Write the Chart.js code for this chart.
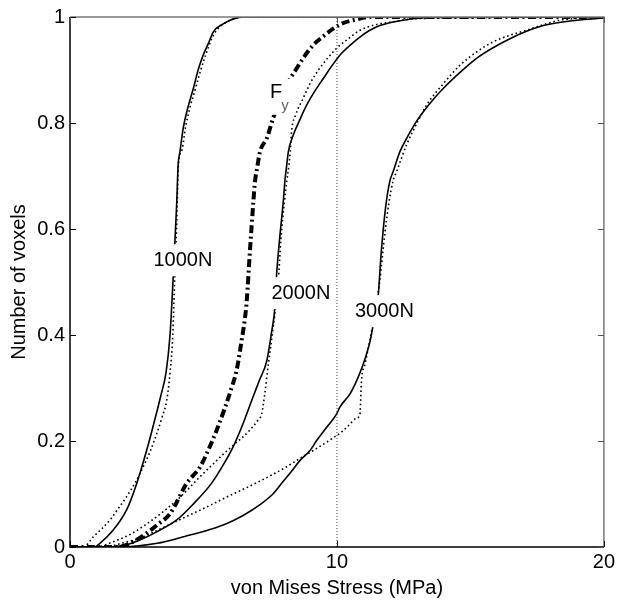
<!DOCTYPE html>
<html><head><meta charset="utf-8">
<script src="https://cdn.jsdelivr.net/npm/chart.js@4/dist/chart.umd.min.js"></script>
<style>html,body{margin:0;padding:0;background:#fff}</style>
</head><body>
<canvas id="c" width="618" height="603"></canvas>
<script>
// ---- data (von Mises stress in MPa vs cumulative fraction of voxels) ----
const xTicks = [0, 10, 20];
const yTicks = [0, 0.2, 0.4, 0.6, 0.8, 1];

const s1000x = [0, 0.9, 1.12, 1.62, 2.12, 2.5, 2.87, 3.15, 3.4, 3.6, 3.75, 3.87, 3.93, 4.0, 4.05, 4.12, 4.24, 4.42, 4.62, 4.8, 4.99, 5.2, 5.37, 5.74, 6.1, 6.5, 20];
const s1000y = [0, 0, 0.007, 0.032, 0.07, 0.12, 0.182, 0.235, 0.285, 0.33, 0.402, 0.514, 0.577, 0.652, 0.72, 0.746, 0.79, 0.83, 0.865, 0.9, 0.928, 0.952, 0.972, 0.987, 0.996, 1, 1];

const d1000x = [0, 0.5, 0.87, 1.2, 1.5, 1.8, 2.12, 2.45, 2.74, 3.0, 3.25, 3.45, 3.62, 3.75, 3.85, 3.93, 3.99, 4.06, 4.2, 4.32, 4.5, 4.7, 4.9, 5.08, 5.25, 5.45, 5.85, 6.6, 20];
const d1000y = [0, 0, 0.019, 0.035, 0.051, 0.072, 0.095, 0.122, 0.151, 0.18, 0.214, 0.245, 0.276, 0.33, 0.40, 0.52, 0.6, 0.72, 0.75, 0.79, 0.83, 0.865, 0.9, 0.928, 0.952, 0.972, 0.99, 1, 1];

const s2000x = [0, 1.5, 2.1, 2.7, 3.3, 4.0, 4.6, 5.3, 5.8, 6.12, 6.5, 6.87, 7.1, 7.37, 7.55, 7.68, 7.74, 7.85, 7.99, 8.05, 8.12, 8.18, 8.36, 8.6, 8.87, 9.17, 9.49, 9.8, 10.11, 10.5, 10.86, 11.2, 11.61, 12.48, 13.5, 20];
const s2000y = [0, 0, 0.004, 0.015, 0.03, 0.051, 0.08, 0.12, 0.16, 0.19, 0.235, 0.285, 0.315, 0.351, 0.405, 0.455, 0.514, 0.58, 0.652, 0.69, 0.721, 0.746, 0.777, 0.805, 0.834, 0.86, 0.884, 0.907, 0.928, 0.947, 0.962, 0.974, 0.984, 0.994, 0.999, 1];

const d2000x = [0, 1.0, 1.62, 2.3, 3.27, 4.0, 4.86, 5.37, 5.74, 6.12, 6.73, 7.05, 7.18, 7.3, 7.43, 7.6, 7.8, 7.9, 8.03, 8.12, 8.2, 8.25, 8.3, 8.45, 8.73, 9.0, 9.35, 9.97, 10.4, 10.86, 11.5, 12.1, 13.0, 20];
const d2000y = [0, 0, 0.01, 0.025, 0.058, 0.088, 0.132, 0.157, 0.175, 0.192, 0.22, 0.24, 0.251, 0.29, 0.345, 0.41, 0.5, 0.58, 0.65, 0.69, 0.72, 0.746, 0.784, 0.815, 0.846, 0.875, 0.903, 0.94, 0.958, 0.975, 0.986, 0.991, 0.997, 1];

const s3000x = [0, 1.8, 3.27, 4.3, 5.24, 5.9, 6.5, 7.12, 7.6, 7.99, 8.3, 8.61, 8.99, 9.24, 9.6, 9.99, 10.11, 10.49, 10.74, 10.95, 11.11, 11.25, 11.36, 11.55, 11.65, 11.82, 11.98, 12.11, 12.36, 12.6, 12.98, 13.45, 13.98, 14.6, 15.23, 15.85, 16.48, 17.1, 17.73, 18.98, 20];
const s3000y = [0, 0, 0.007, 0.02, 0.033, 0.045, 0.06, 0.08, 0.1, 0.124, 0.143, 0.163, 0.182, 0.201, 0.225, 0.251, 0.264, 0.289, 0.314, 0.34, 0.364, 0.39, 0.42, 0.477, 0.55, 0.64, 0.69, 0.709, 0.746, 0.77, 0.803, 0.835, 0.865, 0.895, 0.922, 0.942, 0.959, 0.973, 0.984, 0.994, 0.998];

const d3000x = [0, 1.3, 2.0, 2.74, 3.5, 4.3, 5.1, 5.86, 6.74, 7.49, 8.1, 8.61, 9.24, 9.86, 10.2, 10.49, 10.7, 10.86, 10.92, 11.05, 11.3, 11.45, 11.6, 11.8, 11.95, 12.1, 12.24, 12.61, 13.0, 13.36, 14.0, 14.61, 15.2, 15.85, 16.5, 17.1, 17.7, 18.35, 19.2, 20];
const d3000y = [0, 0, 0.008, 0.019, 0.037, 0.056, 0.075, 0.094, 0.115, 0.134, 0.151, 0.167, 0.186, 0.206, 0.218, 0.232, 0.242, 0.25, 0.314, 0.345, 0.408, 0.45, 0.5, 0.594, 0.65, 0.69, 0.709, 0.759, 0.8, 0.834, 0.875, 0.909, 0.933, 0.953, 0.966, 0.975, 0.985, 0.994, 0.998, 1];

const fyX = [0, 1.8, 2.37, 2.87, 3.3, 3.75, 4.37, 4.87, 5.12, 5.49, 5.8, 6.05, 6.24, 6.43, 6.55, 6.62, 6.74, 6.87, 6.93, 6.99, 7.12, 7.37, 7.61, 7.85, 8.12, 8.49, 8.8, 9.11, 9.5, 9.86, 10.2, 10.61, 11.24, 20];
const fyY = [0, 0, 0.01, 0.026, 0.043, 0.063, 0.12, 0.151, 0.176, 0.22, 0.262, 0.3, 0.333, 0.39, 0.43, 0.464, 0.558, 0.652, 0.69, 0.709, 0.746, 0.771, 0.809, 0.84, 0.872, 0.903, 0.927, 0.947, 0.964, 0.978, 0.988, 0.994, 1, 1];

const refX = [10, 10];
const refY = [0, 1];

// curve annotations (text, data-space anchor)
const curveLabels = ['1000N', '2000N', '3000N'];
const curveLabelX = [4.23, 8.65, 11.78];
const curveLabelY = [0.541, 0.479, 0.445];
const fyLabelX = 7.72, fyLabelY = 0.857;

const pts = (xs, ys) => xs.map((v, i) => ({x: v, y: ys[i]}));
const FONT = '"Liberation Sans", Arial, Helvetica, sans-serif';

const solid = (xs, ys) => ({data: pts(xs, ys), borderColor: '#000', borderWidth: 1.6, cubicInterpolationMode: 'monotone'});
const dotted = (xs, ys) => ({data: pts(xs, ys), borderColor: '#000', borderWidth: 1.6, borderDash: [1.6, 2.8], cubicInterpolationMode: 'monotone'});

const annot = {
  id: 'annot',
  afterDatasetsDraw(chart) {
    const {ctx, chartArea: a, scales: {x, y}} = chart;
    ctx.save();
    ctx.font = '20px ' + FONT;
    ctx.textAlign = 'center';
    ctx.textBaseline = 'middle';
    curveLabels.forEach((t, i) => {
      const px = x.getPixelForValue(curveLabelX[i]);
      const py = y.getPixelForValue(curveLabelY[i]);
      const w = ctx.measureText(t).width + 4;
      ctx.fillStyle = '#fff';
      ctx.fillRect(px - w / 2, py - 16, w, 32);
      ctx.fillStyle = '#000';
      ctx.fillText(t, px, py);
    });
    const fx = x.getPixelForValue(fyLabelX), fy = y.getPixelForValue(fyLabelY);
    ctx.fillStyle = '#fff';
    ctx.fillRect(fx - 9, fy - 14, 27, 36);
    ctx.fillStyle = '#000';
    ctx.fillText('F', fx, fy);
    ctx.font = '15px ' + FONT;
    ctx.fillStyle = '#666';
    ctx.fillText('y', fx + 9, fy + 13);

    // frame
    ctx.lineWidth = 1.5;
    ctx.strokeStyle = '#7a7a7a';
    ctx.beginPath();
    ctx.moveTo(a.left, a.top); ctx.lineTo(a.right, a.top); ctx.lineTo(a.right, a.bottom);
    ctx.stroke();
    ctx.strokeStyle = '#000';
    ctx.beginPath();
    ctx.moveTo(a.left, a.top); ctx.lineTo(a.left, a.bottom); ctx.lineTo(a.right, a.bottom);
    ctx.stroke();
    // inward ticks
    ctx.lineWidth = 1;
    y.ticks.forEach(t => {
      const py = Math.round(y.getPixelForValue(t.value)) + 0.5;
      ctx.strokeStyle = '#000';
      ctx.beginPath(); ctx.moveTo(a.left, py); ctx.lineTo(a.left + 6, py); ctx.stroke();
      ctx.strokeStyle = '#555';
      ctx.beginPath(); ctx.moveTo(a.right, py); ctx.lineTo(a.right - 6, py); ctx.stroke();
    });
    x.ticks.forEach(t => {
      const px = Math.round(x.getPixelForValue(t.value)) + 0.5;
      ctx.strokeStyle = '#000';
      ctx.beginPath(); ctx.moveTo(px, a.bottom); ctx.lineTo(px, a.bottom - 6); ctx.stroke();
      ctx.strokeStyle = '#555';
      ctx.beginPath(); ctx.moveTo(px, a.top); ctx.lineTo(px, a.top + 6); ctx.stroke();
    });
    ctx.restore();
  }
};

const fmt = v => String(Number(v.toFixed(2)));

new Chart(document.getElementById('c'), {
  type: 'line',
  data: {
    datasets: [
      {data: pts(refX, refY), borderColor: '#444', borderWidth: 1, borderDash: [1, 2]},
      dotted(d1000x, d1000y),
      solid(s1000x, s1000y),
      dotted(d2000x, d2000y),
      solid(s2000x, s2000y),
      dotted(d3000x, d3000y),
      solid(s3000x, s3000y),
      {data: pts(fyX, fyY), borderColor: '#000', borderWidth: 4, borderDash: [8, 3.5, 2, 3.5], cubicInterpolationMode: 'monotone'}
    ]
  },
  options: {
    responsive: false,
    animation: false,
    devicePixelRatio: 1,
    layout: {padding: {top: 15, right: 14, left: 0, bottom: 0}},
    elements: {point: {radius: 0}, line: {fill: false}},
    plugins: {legend: {display: false}, tooltip: {enabled: false}},
    scales: {
      x: {
        type: 'linear', min: 0, max: 20,
        afterBuildTicks: s => { s.ticks = xTicks.map(v => ({value: v})); },
        afterFit: s => { s.height = 56; },
        grid: {display: false, drawTicks: false},
        border: {display: false},
        ticks: {color: '#000', font: {size: 20, family: FONT}, padding: 3, maxRotation: 0, callback: fmt},
        title: {display: true, text: 'von Mises Stress (MPa)', color: '#000', font: {size: 20, family: FONT}, padding: {top: 0, bottom: 3}}
      },
      y: {
        type: 'linear', min: 0, max: 1,
        afterBuildTicks: s => { s.ticks = yTicks.map(v => ({value: v})); },
        afterFit: s => { s.width = 70; },
        grid: {display: false, drawTicks: false},
        border: {display: false},
        ticks: {color: '#000', font: {size: 20, family: FONT}, padding: 5, callback: fmt},
        title: {display: true, text: 'Number of voxels', color: '#000', font: {size: 20, family: FONT}, padding: {top: 7, bottom: 0}}
      }
    }
  },
  plugins: [annot]
});
</script>
</body></html>
